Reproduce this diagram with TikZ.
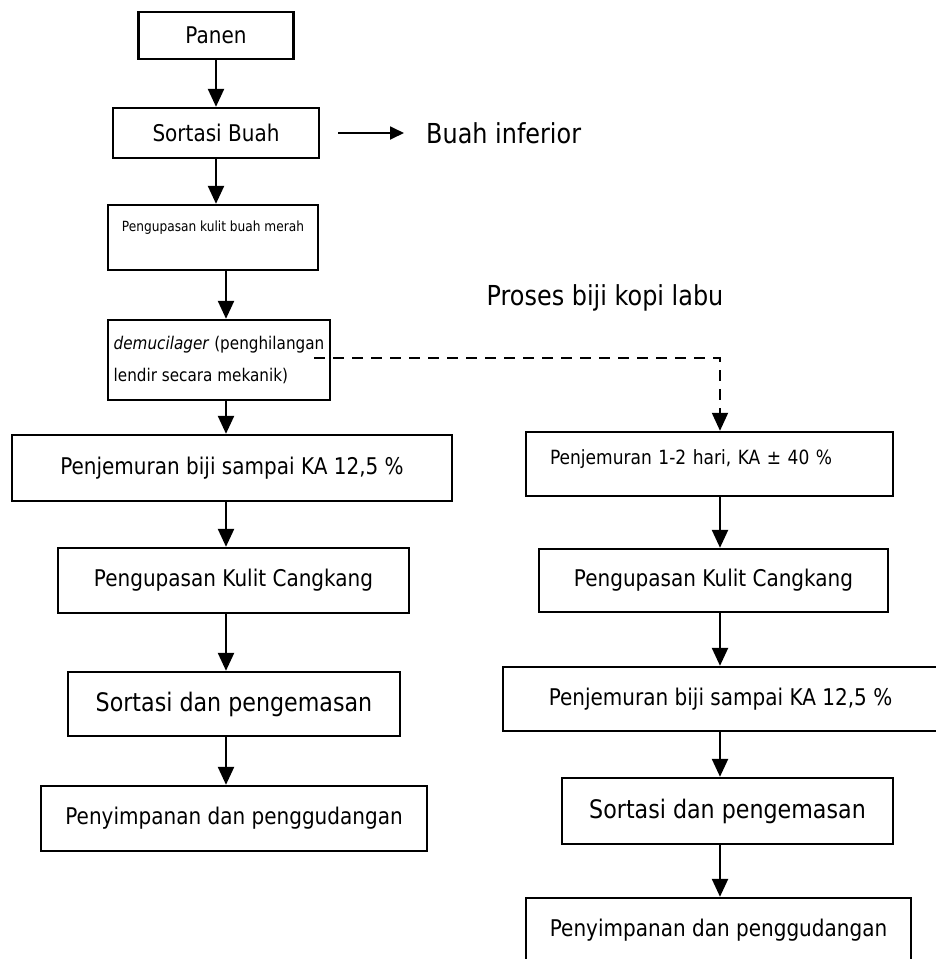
\documentclass[tikz,border=0pt]{standalone}
\usepackage{fontspec}
\setmainfont{DejaVu Sans}[FakeStretch=0.87]
\usetikzlibrary{shapes,arrows.meta}

\begin{document}
\begin{tikzpicture}[%
    x=1pt, y=-1pt,              % Work in pixels of the scan, y grows downwards
    >={Triangle[length=18pt,width=16pt]}, % Filled heads as in the scan
    line width=2.4pt,           % Boxes and connectors share one weight
    every node/.style={inner sep=0pt},
    ]
% -------------------------------------------------
% A few box styles
\tikzset{
  base/.style={draw, rectangle, align=center, font=\fontsize{23}{28}\selectfont},
  proc/.style={base},
  small/.style={font=\fontsize{14}{17}\selectfont},
  mid/.style={font=\fontsize{19.6}{24}\selectfont},
  big/.style={font=\fontsize{25.5}{30}\selectfont},
  note/.style={font=\fontsize{27.5}{32}\selectfont},
  % Connector line styles
  norm/.style={->, draw},
  side/.style={->, line width=1.8pt, >={Triangle[length=14pt,width=13pt]}},
  hop/.style={->, line width=2pt, dash pattern=on 11pt off 8pt},
}
\useasboundingbox (0,0) rectangle (935,959);
% -------------------------------------------------
% Column axes for the straight arrows
\coordinate (spineL) at (226,0);
\coordinate (spineR) at (720,0);
% -------------------------------------------------
% Main line (left)
\node [proc, minimum width=155pt, minimum height=47pt] (panen) at (216,35.5) {Panen};
\node [proc, minimum width=206pt, minimum height=50pt] (sortbuah) at (216,133) {Sortasi Buah};
\node [proc, small, minimum width=210pt, minimum height=65pt, text depth=22pt]
  (kupasmerah) at (213,237.5) {Pengupasan kulit buah merah};
\node [proc, align=left, font=\fontsize{17.5}{32}\selectfont, minimum width=222pt,
  minimum height=80pt] (demuc) at (219,360)
  {\textit{demucilager} (penghilangan\\lendir secara mekanik)};
\node [proc, minimum width=440pt, minimum height=66pt] (jemurA) at (232,468)
  {Penjemuran biji sampai KA 12,5 \%};
\node [proc, minimum width=351pt, minimum height=65pt] (kupasA) at (233.5,580.5)
  {Pengupasan Kulit Cangkang};
\node [proc, big, minimum width=332pt, minimum height=64pt] (sortA) at (234,704)
  {Sortasi dan pengemasan};
\node [proc, minimum width=386pt, minimum height=65pt] (simpanA) at (234,818.5)
  {Penyimpanan dan penggudangan};

% Side notes
\node [note, anchor=west] (inferior) at (425,133) {Buah inferior};
\node [note] (labu) at (605,298) {Proses biji kopi labu};

% Branch (right)
\node [proc, mid, align=left, text width=319pt, inner xsep=24pt, minimum width=367pt,
  minimum height=64pt, text depth=14pt] (jemurB) at (709.5,464)
  {Penjemuran 1-2 hari, KA ± 40 \%};
\node [proc, minimum width=349pt, minimum height=63pt] (kupasB) at (713.5,580.5)
  {Pengupasan Kulit Cangkang};
\node [proc, minimum width=435pt, minimum height=64pt] (jemurKA) at (720.5,699)
  {Penjemuran biji sampai KA 12,5 \%};
\node [proc, big, minimum width=331pt, minimum height=66pt] (sortB) at (727.5,811)
  {Sortasi dan pengemasan};
\node [proc, minimum width=385pt, minimum height=64pt] (simpanB) at (718.5,930)
  {Penyimpanan dan penggudangan};

% -------------------------------------------------
% Connectors
\draw [norm] (panen.south) -- (panen.south |- sortbuah.north);
\draw [norm] (sortbuah.south) -- (sortbuah.south |- kupasmerah.north);
\draw [norm] (spineL |- kupasmerah.south) -- (spineL |- demuc.north);
\foreach \a/\b in {demuc/jemurA, jemurA/kupasA, kupasA/sortA, sortA/simpanA}
  \draw [norm] (spineL |- \a.south) -- (spineL |- \b.north);

\draw [side] ([xshift=18pt]sortbuah.east) -- ([xshift=-21pt]inferior.west);

\draw [hop] ([xshift=-17pt,yshift=2pt]demuc.east) -| (spineR |- jemurB.north);
\foreach \a/\b in {jemurB/kupasB, kupasB/jemurKA, jemurKA/sortB, sortB/simpanB}
  \draw [norm] (spineR |- \a.south) -- (spineR |- \b.north);
% -------------------------------------------------
\end{tikzpicture}
\end{document}
